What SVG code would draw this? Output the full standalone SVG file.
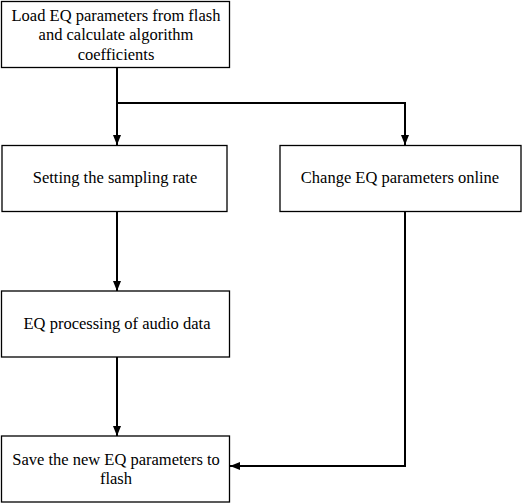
<svg xmlns="http://www.w3.org/2000/svg" width="530" height="504" viewBox="0 0 530 504">
<style>
.box{fill:#fff;stroke:#000;stroke-width:1.3}
.t{font-family:"Liberation Serif","Times New Roman",serif;font-size:16.5px;fill:#000;text-anchor:middle}
.c{fill:none;stroke:#000;stroke-width:2}
</style>
<defs>
<marker id="a" viewBox="0 0 10 10" refX="10" refY="5" markerWidth="10" markerHeight="10" orient="auto" markerUnits="userSpaceOnUse">
<path d="M0,1 L10,5 L0,9 z" fill="#000"/>
</marker>
</defs>
<rect width="530" height="504" fill="#fff"/>
<g id="n1"><rect class="box" x="1.5" y="1.5" width="228" height="66"/>
<text class="t" x="116" y="21">Load EQ parameters from flash</text>
<text class="t" x="116" y="40">and calculate algorithm</text>
<text class="t" x="116" y="60">coefficients</text></g>
<g id="n2"><rect class="box" x="2" y="145.5" width="225" height="66"/>
<text class="t" x="115" y="183">Setting the sampling rate</text></g>
<g id="n3"><rect class="box" x="280" y="145.5" width="241" height="66"/>
<text class="t" x="400" y="183">Change EQ parameters online</text></g>
<g id="n4"><rect class="box" x="1.5" y="291" width="228" height="66"/>
<text class="t" x="117" y="329">EQ processing of audio data</text></g>
<g id="n5"><rect class="box" x="1.5" y="436" width="228" height="66"/>
<text class="t" x="116" y="465">Save the new EQ parameters to</text>
<text class="t" x="116" y="484">flash</text></g>
<g id="connectors">
<path class="c" d="M117,68 V145" marker-end="url(#a)"/>
<path class="c" d="M117,103 H405 V145" marker-end="url(#a)"/>
<path class="c" d="M117,212 V291" marker-end="url(#a)"/>
<path class="c" d="M117,357 V436" marker-end="url(#a)"/>
<path class="c" d="M405,212 V466 H230" marker-end="url(#a)"/>
</g>
</svg>
